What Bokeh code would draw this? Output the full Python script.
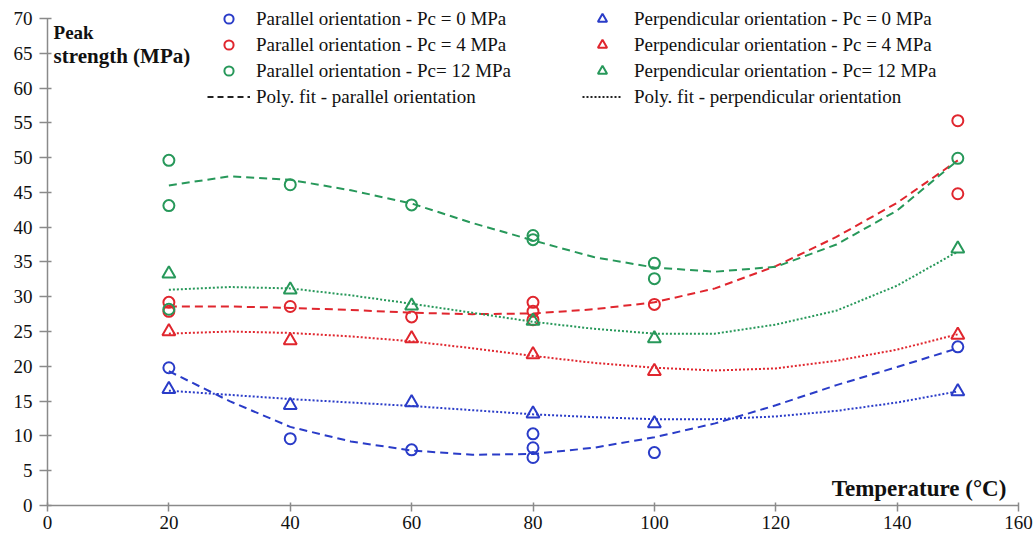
from bokeh.plotting import figure
from bokeh.models import Range1d, Legend, LegendItem, Label, FixedTicker
from bokeh.embed import file_html
from bokeh.resources import INLINE

# ---- data ----
# Parallel orientation, measured peak strength (MPa)
par0_x = [20, 40, 60, 80, 80, 80, 100, 150]
par0_y = [19.8, 9.6, 8.0, 10.3, 8.3, 6.9, 7.6, 22.8]
par4_x = [20, 20, 40, 60, 80, 80, 80, 100, 150, 150]
par4_y = [29.2, 27.9, 28.6, 27.1, 29.2, 27.9, 26.7, 28.9, 55.3, 44.8]
par12_x = [20, 20, 20, 40, 60, 80, 80, 100, 100, 150]
par12_y = [49.6, 43.1, 28.2, 46.1, 43.2, 38.8, 38.2, 34.8, 32.6, 49.9]

# Perpendicular orientation
perp_x = [20, 40, 60, 80, 100, 150]
perp0_y = [16.7, 14.4, 14.8, 13.2, 11.8, 16.4]
perp4_y = [25.0, 23.7, 24.0, 21.7, 19.3, 24.5]
perp12_y = [33.3, 31.0, 28.7, 26.5, 24.0, 36.9]

# Polynomial fit curves
fit_x = [20, 30, 40, 50, 60, 70, 80, 90, 100, 110, 120, 130, 140, 150]
fit_par0 = [19.3, 15.0, 11.3, 9.2, 7.9, 7.3, 7.4, 8.3, 9.8, 11.8, 14.4, 17.3, 19.9, 22.6]
fit_par4 = [28.6, 28.6, 28.4, 28.1, 27.7, 27.5, 27.6, 28.2, 29.2, 31.2, 34.4, 38.6, 43.5, 49.6]
fit_par12 = [46.0, 47.3, 46.8, 45.3, 43.4, 40.6, 38.1, 35.7, 34.2, 33.6, 34.3, 37.5, 42.4, 49.6]
fit_perp0 = [16.5, 15.9, 15.3, 14.8, 14.3, 13.7, 13.1, 12.7, 12.4, 12.4, 12.8, 13.6, 14.8, 16.4]
fit_perp4 = [24.7, 25.0, 24.8, 24.3, 23.6, 22.6, 21.5, 20.5, 19.8, 19.4, 19.7, 20.8, 22.4, 24.6]
fit_perp12 = [31.0, 31.4, 31.2, 30.2, 29.0, 27.7, 26.4, 25.4, 24.7, 24.7, 26.0, 28.0, 31.6, 36.5]

x_ticks = [0, 20, 40, 60, 80, 100, 120, 140, 160]
y_ticks = [0, 5, 10, 15, 20, 25, 30, 35, 40, 45, 50, 55, 60, 65, 70]

labels_par = ["Parallel orientation - Pc = 0 MPa",
              "Parallel orientation - Pc = 4 MPa",
              "Parallel orientation - Pc= 12 MPa",
              "Poly. fit - parallel orientation"]
labels_perp = ["Perpendicular orientation - Pc = 0 MPa",
               "Perpendicular orientation - Pc = 4 MPa",
               "Perpendicular orientation - Pc= 12 MPa",
               "Poly. fit - perpendicular orientation"]

BLUE = "#2a3cc8"
RED = "#e0262e"
GREEN = "#27985a"
FONT = "Liberation Serif"

# y range extends slightly above 70 so the legend's first row is not clipped;
# the axis line itself is bounded to 0..70
p = figure(width=1035, height=540, output_backend="svg", toolbar_location=None,
           x_range=Range1d(0, 160), y_range=Range1d(0, 72.0),
           min_border_left=47, min_border_right=17, min_border_top=4,
           min_border_bottom=35)
p.outline_line_color = None
p.xgrid.visible = False
p.ygrid.visible = False
p.background_fill_color = "white"

for ax in (p.xaxis[0], p.yaxis[0]):
    ax.axis_line_color = "#8a8a8a"
    ax.axis_line_width = 1.5
    ax.major_tick_line_color = "#8a8a8a"
    ax.major_tick_line_width = 1.5
    ax.minor_tick_line_color = None
    ax.major_label_text_font = FONT
    ax.major_label_text_font_size = "19px"
    ax.major_label_text_color = "#111111"
p.xaxis.ticker = FixedTicker(ticks=x_ticks)
p.yaxis.ticker = FixedTicker(ticks=y_ticks)
p.yaxis.bounds = (0, 70)
p.xaxis.major_tick_in = 3
p.xaxis.major_tick_out = 6
p.xaxis.major_label_standoff = 4
p.yaxis.major_tick_in = 4
p.yaxis.major_tick_out = 8
p.yaxis.major_label_standoff = 7

DASH = "8 5"
DOT = "2 2"
LW = 2

# fit curves
p.line(fit_x, fit_par0, line_color=BLUE, line_dash=DASH, line_width=LW)
p.line(fit_x, fit_par4, line_color=RED, line_dash=DASH, line_width=LW)
p.line(fit_x, fit_par12, line_color=GREEN, line_dash=DASH, line_width=LW)
p.line(fit_x, fit_perp0, line_color=BLUE, line_dash=DOT, line_width=LW)
p.line(fit_x, fit_perp4, line_color=RED, line_dash=DOT, line_width=LW)
p.line(fit_x, fit_perp12, line_color=GREEN, line_dash=DOT, line_width=LW)

# markers
r_p0 = p.scatter(par0_x, par0_y, marker="circle", size=11, fill_color=None, line_color=BLUE, line_width=2)
r_p4 = p.scatter(par4_x, par4_y, marker="circle", size=11, fill_color=None, line_color=RED, line_width=2)
r_p12 = p.scatter(par12_x, par12_y, marker="circle", size=11, fill_color=None, line_color=GREEN, line_width=2)
r_q0 = p.scatter(perp_x, perp0_y, marker="triangle", size=13, fill_color=None, line_color=BLUE, line_width=2)
r_q4 = p.scatter(perp_x, perp4_y, marker="triangle", size=13, fill_color=None, line_color=RED, line_width=2)
r_q12 = p.scatter(perp_x, perp12_y, marker="triangle", size=13, fill_color=None, line_color=GREEN, line_width=2)

# legend proxies for the fit lines (drawn off-screen, shown only in the legend)
r_fpar = p.line([-100, -90], [-100, -90], line_color="#222222", line_dash="6 4", line_width=LW)
r_fperp = p.line([-100, -90], [-100, -90], line_color="#222222", line_dash=DOT, line_width=LW)


def make_legend(labels, renderers, loc, gw, standoff):
    leg = Legend(items=[LegendItem(label=l, renderers=[r]) for l, r in zip(labels, renderers)],
                 location=loc, orientation="vertical",
                 border_line_color=None, background_fill_alpha=0,
                 padding=0, margin=0, spacing=3,
                 glyph_width=gw, glyph_height=23, label_height=23,
                 label_standoff=standoff,
                 label_text_font=FONT, label_text_font_size="19px",
                 label_text_color="#111111")
    p.add_layout(leg, "center")


make_legend(labels_par, [r_p0, r_p4, r_p12, r_fpar], (160, 397), 43, 6)
make_legend(labels_perp, [r_q0, r_q4, r_q12, r_fperp], (535, 397), 40, 12)

# axis titles placed inside the plot
p.add_layout(Label(x=1.0, y=68.0, text="Peak", text_font=FONT, text_font_style="bold",
                   text_font_size="19px", text_baseline="middle", text_color="#111111"))
p.add_layout(Label(x=1.0, y=64.6, text="strength (MPa)", text_font=FONT, text_font_style="bold",
                   text_font_size="21px", text_baseline="middle", text_color="#111111"))
p.add_layout(Label(x=158.0, y=2.5, text="Temperature (°C)", text_font=FONT, text_font_style="bold",
                   text_font_size="23px", text_baseline="middle", text_align="right",
                   text_color="#111111"))

open("out.html", "w").write(file_html(p, INLINE))
